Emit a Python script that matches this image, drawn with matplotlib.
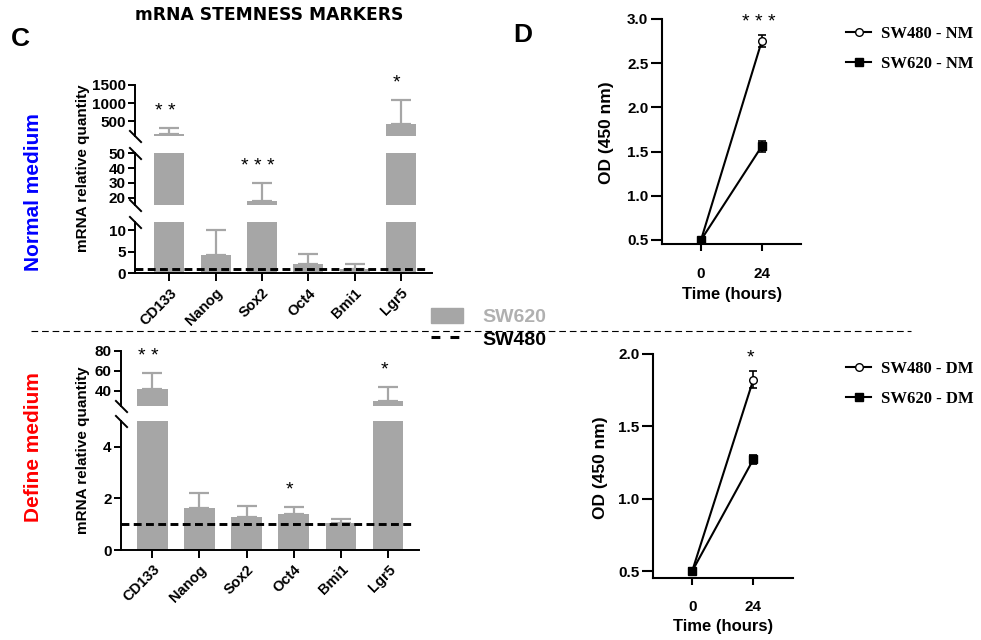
import matplotlib
matplotlib.use('Agg')
import matplotlib.pyplot as plt
from matplotlib.patches import Patch
from matplotlib.lines import Line2D
import numpy as np

plt.rcParams['font.family'] = ['Liberation Sans', 'DejaVu Sans']
plt.rcParams['font.weight'] = 'bold'

# qPCR stemness markers (SW620 relative to SW480 = 1)
markers = ['CD133', 'Nanog', 'Sox2', 'Oct4', 'Bmi1', 'Lgr5']
nm_mean = [150, 4.2, 17.8, 2.1, 0.95, 440]
nm_err = [160, 5.8, 12.2, 2.4, 1.2, 650]
nm_stars = ['* *', '', '* * *', '', '', '*']
dm_mean = [42, 1.64, 1.29, 1.41, 1.06, 30]
dm_err = [16, 0.58, 0.42, 0.27, 0.14, 14.5]
dm_stars = ['* *', '', '', '*', '', '*']
sw480_level = 1.0

# proliferation (CCK-8)
hours = [0, 24]
sw480_nm = [0.5, 2.75]
sw480_nm_err = [0.02, 0.07]
sw620_nm = [0.5, 1.56]
sw620_nm_err = [0.02, 0.06]
sw480_dm = [0.5, 1.82]
sw480_dm_err = [0.02, 0.06]
sw620_dm = [0.5, 1.27]
sw620_dm_err = [0.02, 0.03]

bar_grey = '#a6a6a6'
W, H = 981, 640
fig = plt.figure(figsize=(W / 100, H / 100), dpi=100)


def px_axes(x0, y0, x1, y1):
    # axes from pixel box (top-left origin)
    return fig.add_axes([x0 / W, 1 - y1 / H, (x1 - x0) / W, (y1 - y0) / H])


def break_mark(ax, y):
    ax.plot([0], [y], transform=ax.transAxes, marker=[(-1, 1), (1, -1)],
            markersize=9, mew=1.4, color='k', clip_on=False, linestyle='none')


def bar_panel(x0, x1, segs, xlim, means, errs, stars):
    x = np.arange(len(markers))
    axes = []
    for i, (y0, y1, lo, hi, ticks) in enumerate(segs):
        ax = px_axes(x0, y0, x1, y1)
        ax.bar(x, means, width=0.65, color=bar_grey, zorder=1)
        ax.errorbar(x, means, yerr=[np.zeros(len(errs)), errs], fmt='none',
                    ecolor=bar_grey, elinewidth=1.6, capsize=7, capthick=1.6, zorder=1)
        ax.set_xlim(*xlim)
        ax.set_ylim(lo, hi)
        ax.set_yticks(ticks)
        for s in ['top', 'right']:
            ax.spines[s].set_visible(False)
        ax.spines['left'].set_linewidth(1.4)
        ax.tick_params(axis='y', length=5, width=1.4, pad=1.5, labelsize=11)
        if i == 0:
            ax.axhline(sw480_level, xmin=0, xmax=0.982, color='k', lw=2.1,
                       dashes=(2.7, 1.5), zorder=3)
            ax.spines['bottom'].set_linewidth(1.4)
            ax.set_xticks(x)
            ax.set_xticklabels(markers, rotation=45, ha='right', rotation_mode='anchor',
                               fontsize=10.5)
            ax.tick_params(axis='x', length=6, width=1.4, pad=3)
            break_mark(ax, 1)
        else:
            ax.spines['bottom'].set_visible(False)
            ax.set_xticks([])
            break_mark(ax, 0)
            if i < len(segs) - 1:
                break_mark(ax, 1)
        axes.append(ax)
    # significance stars placed in the segment holding the error-bar top
    for j, s in enumerate(stars):
        if not s:
            continue
        top = means[j] + errs[j]
        for ax, (y0, y1, lo, hi, ticks) in zip(axes, segs):
            if lo <= top <= hi * 1.05:
                ax.annotate(s, (j, top), xytext=(-3, 6), textcoords='offset points',
                            ha='center', va='bottom', fontsize=14, fontweight='normal',
                            annotation_clip=False)
                break
    return axes


# C - normal medium (three-segment broken axis)
bar_panel(135, 431.7,
          [(221.7, 273.3, 0, 12, [0, 5, 10]),
           (153.3, 205, 15, 50, [20, 30, 40, 50]),
           (85, 136, 100, 1500, [500, 1000, 1500])],
          (-0.74, 5.66), nm_mean, nm_err, nm_stars)

# C - define medium (two-segment broken axis)
bar_panel(120.7, 419.3,
          [(421, 550, 0, 5, [0, 2, 4]),
           (351, 406, 25, 80, [40, 60, 80])],
          (-0.67, 5.66), dm_mean, dm_err, dm_stars)


def growth_panel(box, ylim, yticks, a, a_err, b, b_err, star, tag):
    ax = px_axes(*box)
    ax.errorbar(hours, a, yerr=a_err, fmt='none', ecolor='k', elinewidth=1.2,
                capsize=3, capthick=1.2, zorder=2)
    ax.errorbar(hours, b, yerr=b_err, fmt='none', ecolor='k', elinewidth=1.2,
                capsize=3, capthick=1.2, zorder=2)
    ax.plot(hours, a, color='k', lw=1.5, marker='o', markersize=5.5,
            markerfacecolor='white', markeredgecolor='k', markeredgewidth=1.0,
            label='SW480 - ' + tag, zorder=3)
    ax.plot(hours, b, color='k', lw=1.5, marker='s', markersize=6,
            label='SW620 - ' + tag, zorder=3)
    ax.set_xlim(-15.3, 39.5)
    ax.set_ylim(*ylim)
    ax.set_xticks(hours)
    ax.set_yticks(yticks)
    ax.set_yticklabels(['%.1f' % v for v in yticks])
    for s in ['top', 'right']:
        ax.spines[s].set_visible(False)
    for s in ['left', 'bottom']:
        ax.spines[s].set_linewidth(1.5)
    ax.tick_params(axis='y', length=8, width=1.5, pad=2, labelsize=11)
    ax.tick_params(axis='x', length=5, width=1.5, pad=11, labelsize=11)
    top = max(a[1] + a_err[1], b[1] + b_err[1])
    ax.annotate(star, (hours[1], top), xytext=(-2, 3), textcoords='offset points',
                ha='center', va='bottom', fontsize=14, fontweight='normal',
                annotation_clip=False)
    return ax


ax1 = growth_panel((662.3, 19, 801, 244.3), (0.451, 3.0), [0.5, 1.0, 1.5, 2.0, 2.5, 3.0],
                   sw480_nm, sw480_nm_err, sw620_nm, sw620_nm_err, '* * *', 'NM')
ax2 = growth_panel((653.3, 353.7, 792.7, 577.7), (0.454, 2.0), [0.5, 1.0, 1.5, 2.0],
                   sw480_dm, sw480_dm_err, sw620_dm, sw620_dm_err, '*', 'DM')

legend_font = dict(family=['Liberation Serif', 'DejaVu Serif'], weight='bold', size=12)
for ax, ytop in [(ax1, 26), (ax2, 361)]:
    ax.legend(loc='upper left', bbox_to_anchor=(846 / W, 1 - ytop / H),
              bbox_transform=fig.transFigure, frameon=False, prop=legend_font,
              handlelength=1.5, handletextpad=0.6, labelspacing=0.85,
              borderpad=0, borderaxespad=0)

# axis labels
fig.text(83 / W, 1 - 168.5 / H, 'mRNA relative quantity', rotation=90,
         ha='center', va='center', fontsize=11)
fig.text(83 / W, 1 - 450.5 / H, 'mRNA relative quantity', rotation=90,
         ha='center', va='center', fontsize=11)
fig.text(607 / W, 1 - 132.5 / H, 'OD (450 nm)', rotation=90,
         ha='center', va='center', fontsize=12.5)
fig.text(600 / W, 1 - 467.5 / H, 'OD (450 nm)', rotation=90,
         ha='center', va='center', fontsize=12.5)
fig.text(731.7 / W, 1 - 295 / H, 'Time (hours)', ha='center', va='center', fontsize=12)
fig.text(722.7 / W, 1 - 627 / H, 'Time (hours)', ha='center', va='center', fontsize=12)

# panel titles and condition labels
fig.text(269 / W, 1 - 15.5 / H, 'mRNA STEMNESS MARKERS', ha='center', va='center',
         fontsize=12.3, fontweight='heavy', family='DejaVu Sans')
fig.text(20 / W, 1 - 38.5 / H, 'C', ha='center', va='center', fontsize=19)
fig.text(523 / W, 1 - 35 / H, 'D', ha='center', va='center', fontsize=19)
fig.text(33.3 / W, 1 - 192.5 / H, 'Normal medium', rotation=90, ha='center',
         va='center', fontsize=15, color='#0000ff')
fig.text(33.3 / W, 1 - 447.5 / H, 'Define medium', rotation=90, ha='center',
         va='center', fontsize=15, color='#ff0000')

# separator between the two media
fig.add_artist(Line2D([31 / W, 910.7 / W], [1 - 330.7 / H, 1 - 330.7 / H],
                      color='k', lw=0.8, dashes=(6, 3.5)))

# shared legend for the bar charts
fig.legend(handles=[Patch(color=bar_grey),
                    Line2D([], [], color='k', lw=2.2, dashes=(2.9, 3.3))],
           labels=['SW620', 'SW480'], loc='upper left',
           bbox_to_anchor=(431 / W, 1 - 308 / H), frameon=False,
           prop=dict(weight='bold', size=14), labelcolor=['#b0b0b0', 'k'],
           handlelength=1.65, handleheight=0.82, handletextpad=1.0,
           labelspacing=0.2, borderpad=0, borderaxespad=0)

fig.savefig('out.png', dpi=100)
